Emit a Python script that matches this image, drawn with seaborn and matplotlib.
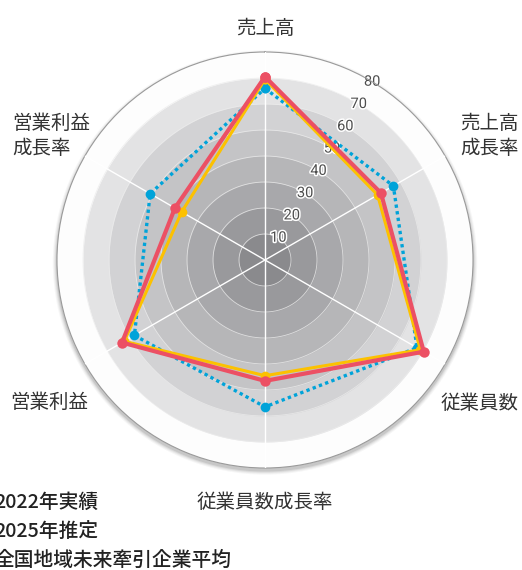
import numpy as np
import pandas as pd
import matplotlib
matplotlib.use("Agg")
import matplotlib.pyplot as plt
import seaborn as sns
from matplotlib import patheffects as pe
from matplotlib.patches import Circle

# ---------------- data ----------------
categories = ["売上高", "売上高\n成長率", "従業員数", "従業員数成長率", "営業利益", "営業利益\n成長率"]
series_names = ["2022年実績", "2025年推定", "全国地域未来牽引企業平均"]
values_2022 = [69.5, 50, 69, 44.5, 62.5, 37]
values_2025 = [70.5, 51.5, 70.5, 46.5, 63.5, 40]
values_avg = [66, 57, 67.5, 56.5, 58, 51]
r_ticks = [10, 20, 30, 40, 50, 60, 70, 80]
ring_colors = ["#8a8a8d", "#99999c", "#a8a8ab", "#b6b6b8", "#c4c4c6",
               "#d2d2d4", "#e3e3e4", "#fdfdfd"]

sns.set_style("white")
plt.rcParams["font.family"] = ["Noto Sans CJK JP", "DejaVu Sans"]

W, H = 522, 570
fig = plt.figure(figsize=(W / 100, H / 100), dpi=100)
cx, cy, R = 265, 260, 208
ax = fig.add_axes([(cx - R) / W, (H - cy - R) / H, 2 * R / W, 2 * R / H],
                  projection="polar")
ax.set_theta_zero_location("N")
ax.set_theta_direction(-1)
ax.set_ylim(0, 80)
ax.set_facecolor("white")
ax.set_axisbelow(False)

# soft shadow behind the outer circle
for i, a in enumerate([0.05, 0.07, 0.10, 0.14]):
    d = (4 - i) * 0.0025
    sh = Circle((0.5, 0.5 - 0.006), 0.5 + d, transform=ax.transAxes,
                facecolor="#555555", edgecolor="none", alpha=a, zorder=-5)
    fig.patches.append(sh)
    sh.set_figure(fig)

# concentric gray rings
tgrid = np.linspace(0, 2 * np.pi, 361)
for r, c in zip(r_ticks[::-1], ring_colors[::-1]):
    ax.fill_between(tgrid, 0, r, color=c, linewidth=0, zorder=0.8)
for r in r_ticks[:-1]:
    ax.plot(tgrid, np.full_like(tgrid, r), color="#ececec", lw=0.6,
            alpha=0.8, zorder=0.9)

n = len(categories)
theta = np.arange(n) * 2 * np.pi / n

ax.set_xticks(theta)
ax.set_xticklabels([])
ax.set_yticks(r_ticks)
ax.set_yticklabels([])
ax.xaxis.grid(True, color="white", linewidth=1.0, zorder=1.5)
ax.yaxis.grid(False)
ax.spines["polar"].set_color("#9a9a9a")
ax.spines["polar"].set_linewidth(0.8)

# radial tick labels
for r in r_ticks:
    ax.text(np.deg2rad(31), r, str(r), ha="center", va="center",
            fontsize=10.5, color="#4d4d4d",
            family=["Liberation Sans Narrow", "Roboto", "DejaVu Sans"],
            zorder=1.8,
            path_effects=[pe.withStroke(linewidth=2.2, foreground="white")])

def closed(vals):
    return pd.DataFrame({"theta": np.append(theta, 2 * np.pi),
                         "value": list(vals) + [vals[0]]})

sns.lineplot(data=closed(values_avg), x="theta", y="value", sort=False,
             errorbar=None, ax=ax, color="#00a3d9", linewidth=2.4,
             linestyle=(0, (1, 1)), marker="o", markersize=7,
             markeredgewidth=0, label=series_names[2], zorder=3)
sns.lineplot(data=closed(values_2022), x="theta", y="value", sort=False,
             errorbar=None, ax=ax, color="#fcc100", linewidth=2.2,
             marker="o", markersize=7, markeredgewidth=0,
             label=series_names[0], zorder=4)
sns.lineplot(data=closed(values_2025), x="theta", y="value", sort=False,
             errorbar=None, ax=ax, color="#ec5064", linewidth=3.0,
             marker="o", markersize=7.5, markeredgewidth=0,
             label=series_names[1], zorder=5)
ax.set_xlabel("")
ax.set_ylabel("")

handles, labels = ax.get_legend_handles_labels()
if ax.get_legend() is not None:
    ax.get_legend().remove()
order = [labels.index(s) for s in series_names]
fig.legend([handles[i] for i in order], [labels[i] for i in order],
           loc="upper left", bbox_to_anchor=(-61 / W, 1 - 493 / H),
           frameon=False, handlelength=2.0,
           handletextpad=0.8, borderpad=0, borderaxespad=0,
           labelspacing=0.5, prop={"weight": "medium", "size": 14.2})
for t in fig.legends[0].get_texts():
    t.set_color("#222222")

# category labels
label_pos = [(265, 28, "center"), (460, 136, "left"), (441, 403, "left"),
             (265, 502, "center"), (10, 402, "left"), (12, 136, "left")]
for txt, (x, y, ha) in zip(categories, label_pos):
    fig.text(x / W, 1 - y / H, txt, ha=ha, va="center", fontsize=14,
             color="#333333", linespacing=1.2)

fig.savefig("out.png", dpi=100)
